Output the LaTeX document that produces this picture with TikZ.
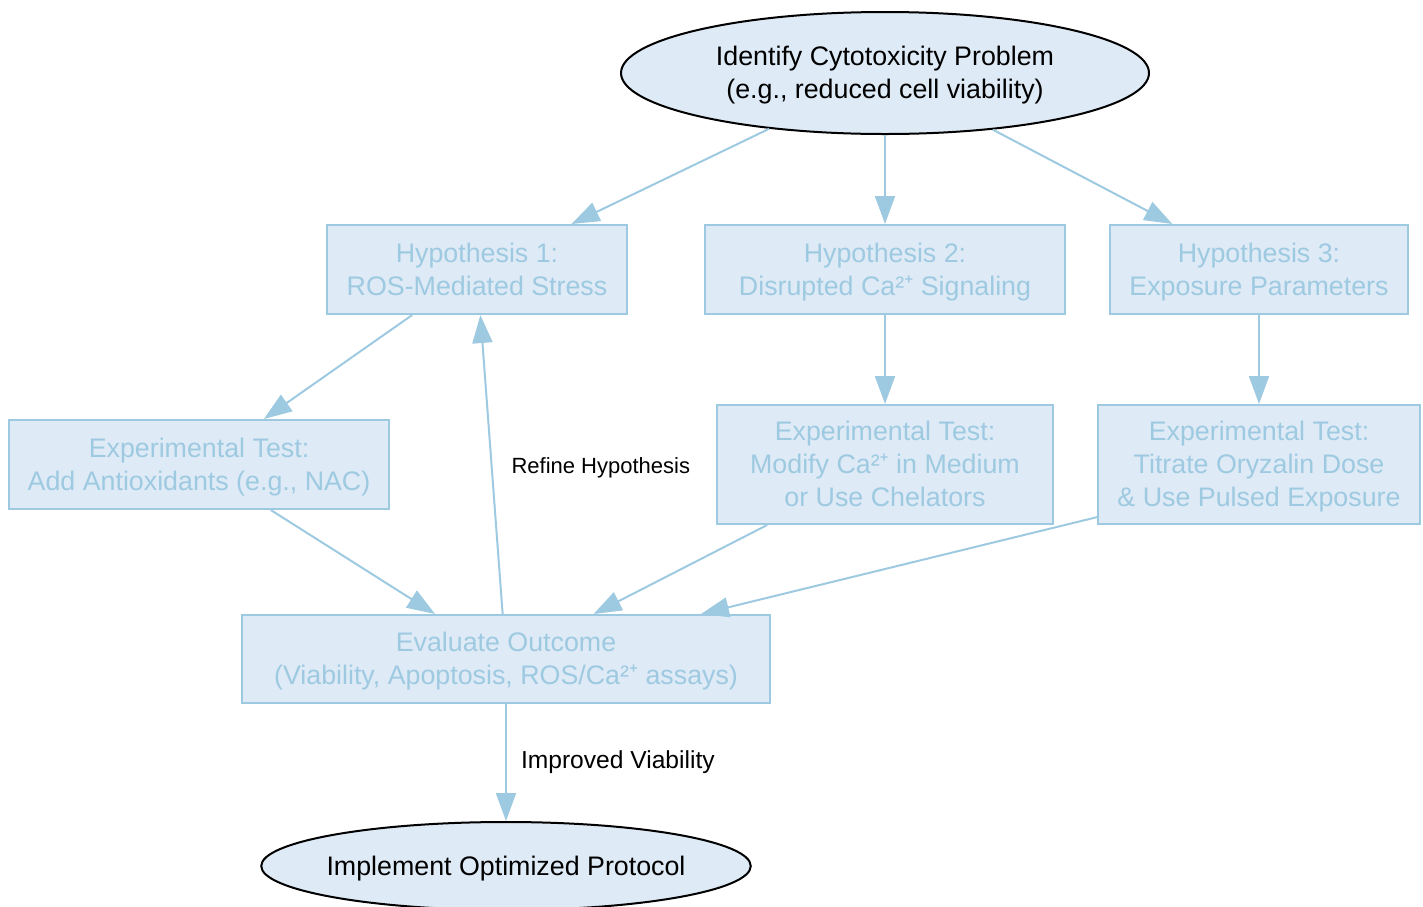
\documentclass[tikz,border=0pt]{standalone}
\usepackage{fontspec}
\setmainfont{Liberation Sans}
\newfontfamily\supfont{Noto Sans}
\usetikzlibrary{shapes.geometric,arrows.meta}
\definecolor{stepline}{HTML}{9ECAE1}
\definecolor{stepfill}{HTML}{DEEAF6}
\tikzset{
    hypbox/.style={draw=stepline, fill=stepfill, text=stepline, line width=1pt,
        align=center, inner sep=0pt, minimum height=44.5pt,
        font=\fontsize{13.4}{16.5}\selectfont},
    endpoint/.style={ellipse, draw=black, fill=stepfill, line width=1pt,
        align=center, inner sep=0pt, font=\fontsize{13.4}{16.5}\selectfont},
    link/.style={draw=stepline, line width=1pt, -{Triangle[length=14pt,width=10pt]}},
    linklabel/.style={font=\fontsize{11}{13}\selectfont, inner sep=0pt}
}
% struts with the font's ascent and descent
\newcommand\TopStrut{\vrule width 0pt height 0.905em depth 0pt}
\newcommand\BotStrut{\vrule width 0pt height 0pt depth 0.212em}
\newcommand\StepBox[5]{%
    \node[hypbox, minimum width=#3, minimum height=#4] (#1) at (#2) {\TopStrut#5\BotStrut};
}
\newcommand\CaIon{Ca²{\supfont ⁺}}

\begin{document}
\begin{tikzpicture}[x=0.5pt, y=-0.5pt]
    \useasboundingbox (0,0) rectangle (1423,906);
    % start and end
    \node[endpoint, minimum width=264pt, minimum height=61pt] (problem) at (885,73)
        {\TopStrut Identify Cytotoxicity Problem\\(e.g., reduced cell viability)\BotStrut};
    \node[endpoint, inner xsep=-3.2pt, minimum height=44pt] (protocol) at (506,866)
        {\TopStrut Implement Optimized Protocol\BotStrut};
    % hypotheses
    \StepBox{hypA}{477,269.5}{150pt}{44.5pt}{Hypothesis 1:\\ROS-Mediated Stress}
    \StepBox{hypB}{885,269.5}{180pt}{44.5pt}{Hypothesis 2:\\Disrupted \CaIon{} Signaling}
    \StepBox{hypC}{1259,269.5}{149pt}{44.5pt}{Hypothesis 3:\\Exposure Parameters}
    % tests
    \StepBox{testA}{199,464.5}{190pt}{44.5pt}{Experimental Test:\\Add Antioxidants (e.g., NAC)}
    \StepBox{testB}{885,464.5}{168pt}{59.5pt}{Experimental Test:\\Modify \CaIon{} in Medium\\or Use Chelators}
    \StepBox{testC}{1259,464.5}{161pt}{59.5pt}{Experimental Test:\\Titrate Oryzalin Dose\\\& Use Pulsed Exposure}
    \StepBox{evaluate}{506,659}{264pt}{44pt}{Evaluate Outcome\\(Viability, Apoptosis, ROS/\CaIon{} assays)}

    \draw[link] (problem) -- (hypA);
    \draw[link] (problem) -- (hypB);
    \draw[link] (problem) -- (hypC);
    \draw[link] (hypA) -- (testA);
    \draw[link] (hypB) -- (testB);
    \draw[link] (hypC) -- (testC);
    \draw[link] (testA) -- (evaluate);
    \draw[link] (testB) -- (evaluate);
    \draw[link] (testC.198) -- (evaluate.13.5);
    \draw[link] (evaluate) -- (hypA)
        node[linklabel, midway, right, xshift=9.5pt, yshift=-1.5pt] {Refine Hypothesis};
    \draw[link] (evaluate) -- (protocol)
        node[linklabel, midway, right, xshift=7pt, font=\fontsize{12.3}{14}\selectfont] {Improved Viability};
\end{tikzpicture}
\end{document}
